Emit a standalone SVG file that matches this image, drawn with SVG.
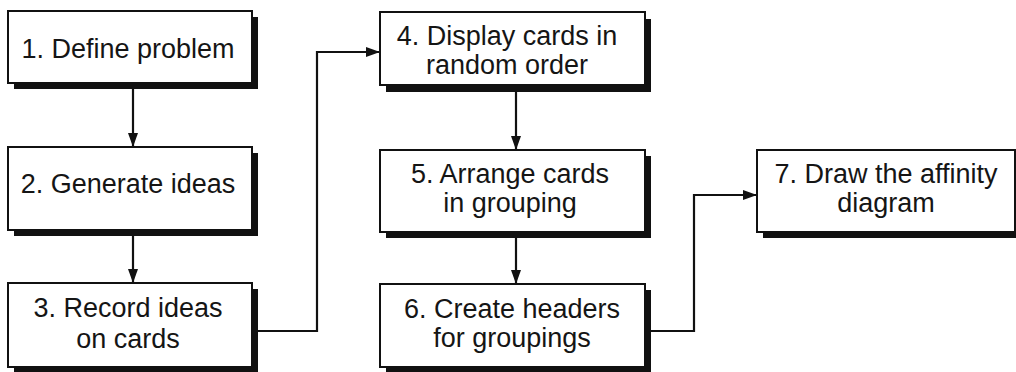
<svg xmlns="http://www.w3.org/2000/svg" width="1016" height="372" viewBox="0 0 1016 372">
<style>
.box{fill:#fff;stroke:#111;stroke-width:2}
.sh{fill:#111}
.t{font-family:"Liberation Sans",Arial,sans-serif;font-size:27px;fill:#151515;text-anchor:middle}
.c{fill:none;stroke:#111;stroke-width:2.2}
</style>
<defs>
<marker id="ah" markerWidth="14" markerHeight="10" refX="13" refY="5" orient="auto" markerUnits="userSpaceOnUse">
<path d="M0,0 L14,5 L0,10 z" fill="#111"/>
</marker>
</defs>
<rect width="1016" height="372" fill="#fff"/>
<g id="connectors">
<path class="c" d="M133,89 V146" marker-end="url(#ah)"/>
<path class="c" d="M133,236 V282" marker-end="url(#ah)"/>
<path class="c" d="M258,331 H317 V52 H379" marker-end="url(#ah)"/>
<path class="c" d="M516,92 V149" marker-end="url(#ah)"/>
<path class="c" d="M516,238 V283" marker-end="url(#ah)"/>
<path class="c" d="M651,331 H694 V195 H756" marker-end="url(#ah)"/>
</g>
<g id="n1">
<rect class="sh" x="14" y="17" width="244" height="72"/>
<rect class="box" x="8" y="11" width="244" height="72"/>
<text class="t" x="128" y="58">1. Define problem</text>
</g>
<g id="n2">
<rect class="sh" x="14" y="153" width="244" height="83"/>
<rect class="box" x="8" y="147" width="244" height="83"/>
<text class="t" x="128" y="193">2. Generate ideas</text>
</g>
<g id="n3">
<rect class="sh" x="14" y="289" width="244" height="84"/>
<rect class="box" x="8" y="283" width="244" height="84"/>
<text class="t" x="128" y="317">3. Record ideas</text>
<text class="t" x="128" y="348">on cards</text>
</g>
<g id="n4">
<rect class="sh" x="386" y="19" width="265" height="73"/>
<rect class="box" x="380" y="12" width="265" height="73"/>
<text class="t" x="507" y="45">4. Display cards in</text>
<text class="t" x="507" y="74">random order</text>
</g>
<g id="n5">
<rect class="sh" x="386" y="156" width="265" height="82"/>
<rect class="box" x="380" y="150" width="265" height="82"/>
<text class="t" x="510" y="183">5. Arrange cards</text>
<text class="t" x="510" y="212">in grouping</text>
</g>
<g id="n6">
<rect class="sh" x="386" y="290" width="265" height="83"/>
<rect class="box" x="380" y="284" width="265" height="83"/>
<text class="t" x="512" y="318">6. Create headers</text>
<text class="t" x="512" y="347">for groupings</text>
</g>
<g id="n7">
<rect class="sh" x="763" y="156" width="260" height="82"/>
<rect class="box" x="757" y="150" width="258" height="82"/>
<text class="t" x="886" y="183">7. Draw the affinity</text>
<text class="t" x="886" y="212">diagram</text>
</g>
</svg>
